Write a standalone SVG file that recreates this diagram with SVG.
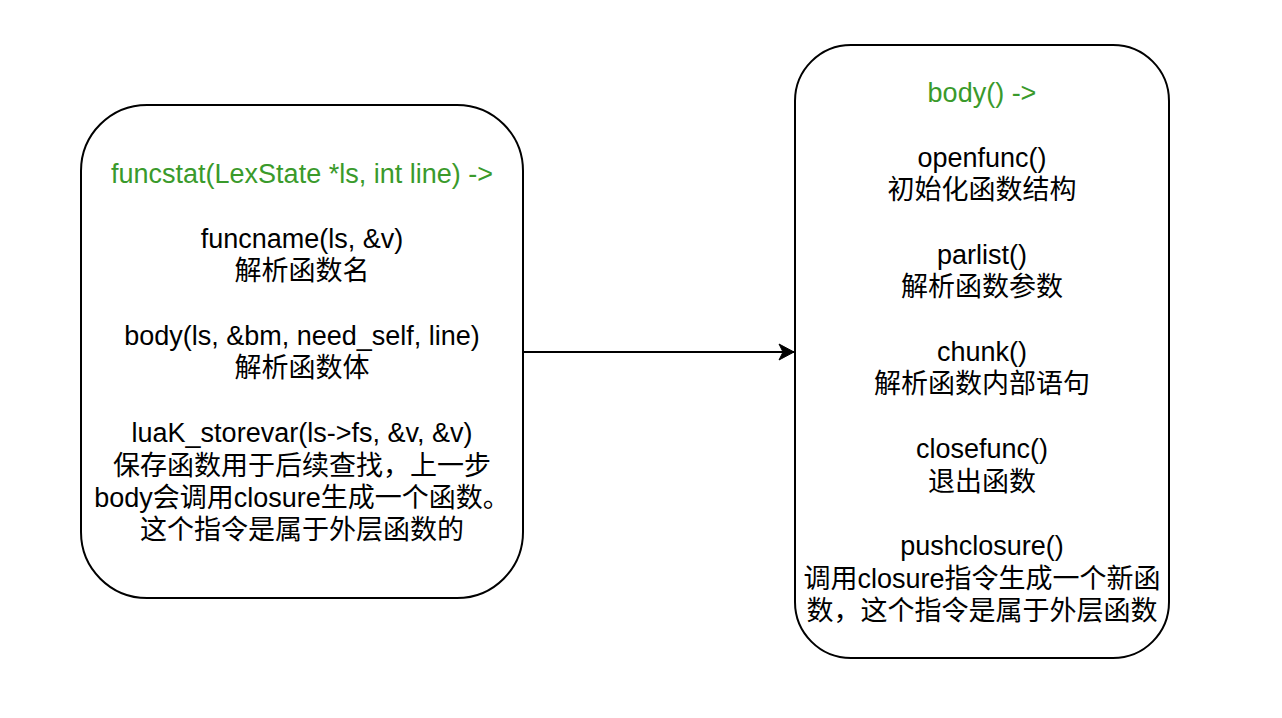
<svg xmlns="http://www.w3.org/2000/svg" width="1282" height="718" viewBox="0 0 1282 718">
<style>
.box{fill:#ffffff;stroke:#000000;stroke-width:2}
.t{font-family:"Liberation Sans","Noto Sans CJK SC",sans-serif;font-size:27px;fill:#000000;text-anchor:middle}
.g{fill:#3a9a2b}
.edge{fill:none;stroke:#000000;stroke-width:2}
</style>
<defs>
<marker id="arrow" markerUnits="userSpaceOnUse" markerWidth="18" markerHeight="18" viewBox="0 0 18 18" refX="16" refY="9" orient="auto">
<path d="M1,1 L16,9 L1,17 L5,9 Z" fill="#000000" stroke="#000000" stroke-width="1"/>
</marker>
</defs>
<rect width="1282" height="718" fill="#ffffff"/>
<g id="connectors">
<path class="edge" d="M523,352 L794,352" marker-end="url(#arrow)"/>
</g>
<g id="funcstat">
<rect class="box" x="81" y="105" width="442" height="493" rx="66" ry="66"/>
<text class="t g" x="302" y="183">funcstat(LexState *ls, int line) -&gt;</text>
<text class="t" x="302" y="248">funcname(ls, &amp;v)</text>
<text class="t" x="302" y="280">解析函数名</text>
<text class="t" x="302" y="345">body(ls, &amp;bm, need_self, line)</text>
<text class="t" x="302" y="377">解析函数体</text>
<text class="t" x="302" y="442">luaK_storevar(ls-&gt;fs, &amp;v, &amp;v)</text>
<text class="t" x="302" y="475">保存函数用于后续查找，上一步</text>
<text class="t" x="302" y="507">body会调用closure生成一个函数。</text>
<text class="t" x="302" y="539">这个指令是属于外层函数的</text>
</g>
<g id="body">
<rect class="box" x="795" y="45" width="374" height="613" rx="56" ry="56"/>
<text class="t g" x="982" y="102">body() -&gt;</text>
<text class="t" x="982" y="167">openfunc()</text>
<text class="t" x="982" y="199">初始化函数结构</text>
<text class="t" x="982" y="264">parlist()</text>
<text class="t" x="982" y="296">解析函数参数</text>
<text class="t" x="982" y="361">chunk()</text>
<text class="t" x="982" y="393">解析函数内部语句</text>
<text class="t" x="982" y="458">closefunc()</text>
<text class="t" x="982" y="491">退出函数</text>
<text class="t" x="982" y="555">pushclosure()</text>
<text class="t" x="982" y="588">调用closure指令生成一个新函</text>
<text class="t" x="982" y="620">数，这个指令是属于外层函数</text>
</g>
</svg>
